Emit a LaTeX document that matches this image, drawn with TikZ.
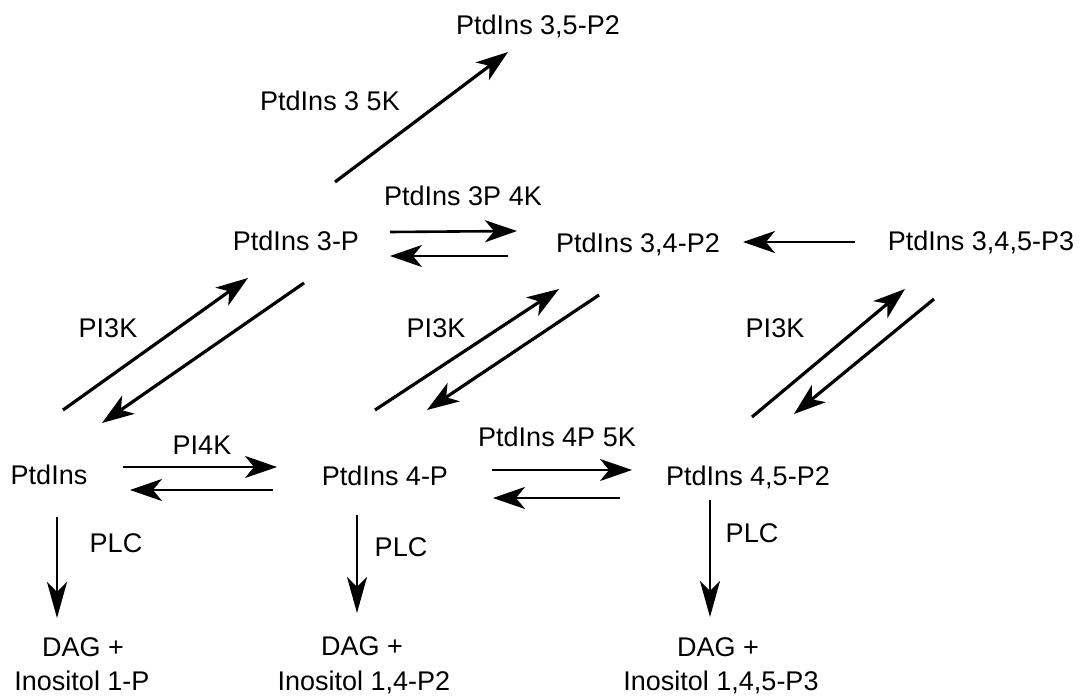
\documentclass[tikz,border=0pt]{standalone}
\usepackage{fontspec}
\setmainfont{Liberation Sans}
\usetikzlibrary{arrows.meta}
\begin{document}
\begin{tikzpicture}[x=1pt,y=-1pt,
  lbl/.style={inner sep=0pt, text height=19.5pt, text depth=0pt, anchor=center,
              font=\fontsize{27}{32}\selectfont},
  rxn/.style={line width=2.6pt, -{Stealth[length=32pt,width=22pt,inset=9pt]}},
  diag/.style={rxn, line width=3.2pt},
  plc/.style={line width=2pt, -{Stealth[length=36pt,width=20pt,inset=10pt]}}]
\useasboundingbox (0,0) rectangle (1080,698);

% metabolites
\node[lbl] (p35)  at (538,25)  {PtdIns 3,5-P2};
\node[lbl] (p3)   at (296,241) {PtdIns 3-P};
\node[lbl] (p34)  at (638,243) {PtdIns 3,4-P2};
\node[lbl] (p345) at (981,241) {PtdIns 3,4,5-P3};
\node[lbl] (p0)   at (49,475)  {PtdIns};
\node[lbl] (p4)   at (385,476) {PtdIns 4-P};
\node[lbl] (p45)  at (748,476) {PtdIns 4,5-P2};
\node[lbl] (d1)   at (83,647)  {DAG +};
\node[lbl] (i1)   at (82,681)  {Inositol 1-P};
\node[lbl] (d2)   at (362,646) {DAG +};
\node[lbl] (i2)   at (364,681) {Inositol 1,4-P2};
\node[lbl] (d3)   at (718,647) {DAG +};
\node[lbl] (i3)   at (721,681) {Inositol 1,4,5-P3};

% enzymes
\node[lbl] (e35k)  at (330,101) {PtdIns 3 5K};
\node[lbl] (e3p4k) at (463,196) {PtdIns 3P 4K};
\node[lbl] (e3a)   at (108,328) {PI3K};
\node[lbl] (e3b)   at (436,328) {PI3K};
\node[lbl] (e3c)   at (775,328) {PI3K};
\node[lbl] (e4k)   at (202,445) {PI4K};
\node[lbl] (e4p5k) at (557,437) {PtdIns 4P 5K};
\node[lbl] (plc1)  at (116,543) {PLC};
\node[lbl] (plc2)  at (401,547) {PLC};
\node[lbl] (plc3)  at (752,533) {PLC};

% arrow end points
\coordinate (a35s) at (335,182);  \coordinate (a35e) at (508,52);
\coordinate (f34s) at (390,232);  \coordinate (f34e) at (517,231);
\coordinate (r34s) at (508,256);  \coordinate (r34e) at (390,256);
\coordinate (b34s) at (855,242);  \coordinate (b34e) at (743,242);
\coordinate (u1s) at (63,410);    \coordinate (u1e) at (248,278);
\coordinate (d1s) at (304,283);   \coordinate (d1e) at (102,423);
\coordinate (u2s) at (375,410);   \coordinate (u2e) at (559,289);
\coordinate (d2s) at (599,295);   \coordinate (d2e) at (427,410);
\coordinate (u3s) at (752,417);   \coordinate (u3e) at (905,289);
\coordinate (d3s) at (934,299);   \coordinate (d3e) at (794,414);
\coordinate (f4s) at (123,467);   \coordinate (f4e) at (277,467);
\coordinate (r4s) at (273,490);   \coordinate (r4e) at (130,490);
\coordinate (f5s) at (492,470);   \coordinate (f5e) at (632,470);
\coordinate (r5s) at (620,498);   \coordinate (r5e) at (493,498);
\coordinate (c1s) at (57,517);    \coordinate (c1e) at (57,618);
\coordinate (c2s) at (357,515);   \coordinate (c2e) at (357,613);
\coordinate (c3s) at (710,500);   \coordinate (c3e) at (710,617);

% reactions
\draw[diag] (a35s) -- (a35e);
\draw[rxn] (f34s) -- (f34e);
\draw[rxn] (r34s) -- (r34e);
\draw[rxn] (b34s) -- (b34e);
\draw[diag] (u1s) -- (u1e);
\draw[diag] (d1s) -- (d1e);
\draw[diag] (u2s) -- (u2e);
\draw[diag] (d2s) -- (d2e);
\draw[diag] (u3s) -- (u3e);
\draw[diag] (d3s) -- (d3e);
\draw[rxn] (f4s) -- (f4e);
\draw[rxn] (r4s) -- (r4e);
\draw[rxn] (f5s) -- (f5e);
\draw[rxn] (r5s) -- (r5e);
\draw[plc] (c1s) -- (c1e);
\draw[plc] (c2s) -- (c2e);
\draw[plc] (c3s) -- (c3e);
\end{tikzpicture}
\end{document}
